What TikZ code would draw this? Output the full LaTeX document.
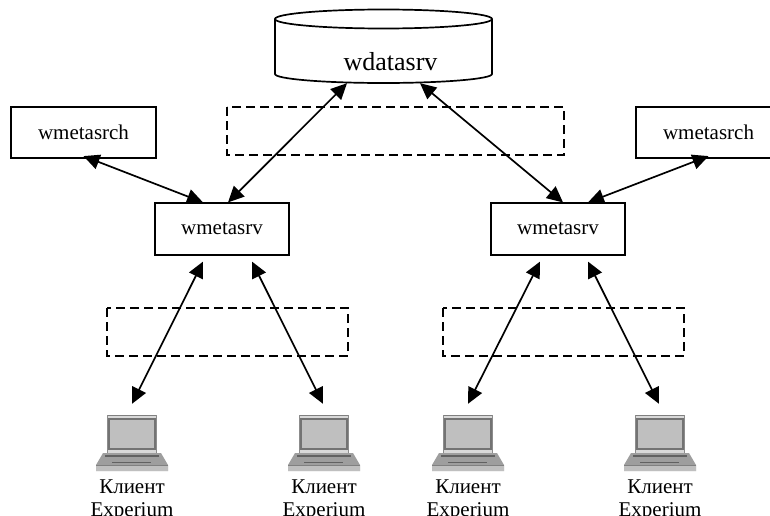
\documentclass[tikz,border=0pt]{standalone}
\usepackage{fontspec}
\setmainfont{Liberation Serif}
\usetikzlibrary{arrows.meta}
\tikzset{
  x=1pt,y=-1pt,
  box/.style={draw=black,line width=1.7pt,inner sep=0pt,minimum width=#1,minimum height=51.5pt,font=\fontsize{21}{23}\selectfont},
  box/.default=134pt,
  zone/.style={draw=black,line width=1.5pt,dash pattern=on 9pt off 5pt},
  link/.style={line width=1.7pt,{Triangle[length=16pt,width=15pt]}-{Triangle[length=16pt,width=15pt]}},
  pcspot/.style={inner sep=0pt,minimum width=72pt,minimum height=56pt},
  pclabel/.style={anchor=north,align=center,inner sep=0pt,font=\fontsize{21}{22.5}\selectfont},
  pics/laptop/.style={code={
    \fill[black!15] (-25,-28) rectangle (25,10);
    \fill[black!50] (-25,-28) rectangle (25,-27);
    \fill[black!45] (-25,-28) rectangle (-24,10);
    \fill[black!45] (24,-28) rectangle (25,10);
    \fill[black!25] (-23,-24) rectangle (23,6);
    \draw[black!55,line width=1.3pt] (-23,-24) rectangle (23,6);
    \fill[black!38] (-29,10) -- (29,10) -- (36,22) -- (36,28) -- (-36,28) -- (-36,22) -- cycle;
    \fill[black!62] (-27,12) rectangle (27,13.5);
    \fill[black!62] (-20,18.5) rectangle (19,20);
    \fill[black!25] (-36,23) rectangle (36,28);
    \fill[black!50] (-36,22) rectangle (36,23);
  }}
}
\begin{document}
\begin{tikzpicture}
\useasboundingbox (0,0) rectangle (770,516);
\clip (0,0) rectangle (770,516);
% database
\draw[black,line width=1.7pt] (275,19) -- (275,74) arc[start angle=180,end angle=360,x radius=108.5,y radius=-9] -- (492,19);
\draw[black,line width=1.7pt] (383.5,19) ellipse[x radius=108.5,y radius=9.5];
\node[inner sep=0pt,minimum width=217pt,minimum height=73pt] (db) at (383.5,46.5) {};
\node[inner sep=0pt,font=\fontsize{26}{28}\selectfont] (dbname) at (390.5,62) {wdatasrv};
% dashed zones
\draw[zone] (227,107) rectangle (564,155);
\draw[zone] (107,308) rectangle (348,356);
\draw[zone] (443,308) rectangle (684,356);
% servers
\node[box=145pt] (srchL) at (83.5,132.5) {wmetasrch};
\node[box=145pt] (srchR) at (708.5,132.5) {wmetasrch};
\node[box] (srvL) at (222,229) {wmetasrv};
\node[box] (srvR) at (558,229) {wmetasrv};
% laptops
\node[pcspot] (pc1) at (132,443) {};
\node[pcspot] (pc2) at (324,443) {};
\node[pcspot] (pc3) at (468,443) {};
\node[pcspot] (pc4) at (660,443) {};
\pic at (pc1) {laptop};
\pic at (pc2) {laptop};
\pic at (pc3) {laptop};
\pic at (pc4) {laptop};
\node[pclabel] (t1) at (132,480) {Клиент\\Experium};
\node[pclabel] (t2) at (324,480) {Клиент\\Experium};
\node[pclabel] (t3) at (468,480) {Клиент\\Experium};
\node[pclabel] (t4) at (660,480) {Клиент\\Experium};
% connectors
\draw[link] ([yshift=3pt]srchL.south) -- ([xshift=-19pt]srvL.north);
\draw[link] ([yshift=3pt]srchR.south) -- ([xshift=30pt]srvR.north);
\draw[link] ([xshift=-36.5pt]db.south) -- ([xshift=6pt]srvL.north);
\draw[link] ([xshift=36.5pt]db.south) -- ([xshift=5pt]srvR.north);
\draw[link] ([xshift=-19pt,yshift=-6pt]srvL.south) -- ([yshift=11pt]pc1.north);
\draw[link] ([xshift=30pt,yshift=-6pt]srvL.south) -- ([xshift=-1pt,yshift=11pt]pc2.north);
\draw[link] ([xshift=-18pt,yshift=-6pt]srvR.south) -- ([yshift=11pt]pc3.north);
\draw[link] ([xshift=30pt,yshift=-6pt]srvR.south) -- ([xshift=-1pt,yshift=11pt]pc4.north);
\end{tikzpicture}
\end{document}
